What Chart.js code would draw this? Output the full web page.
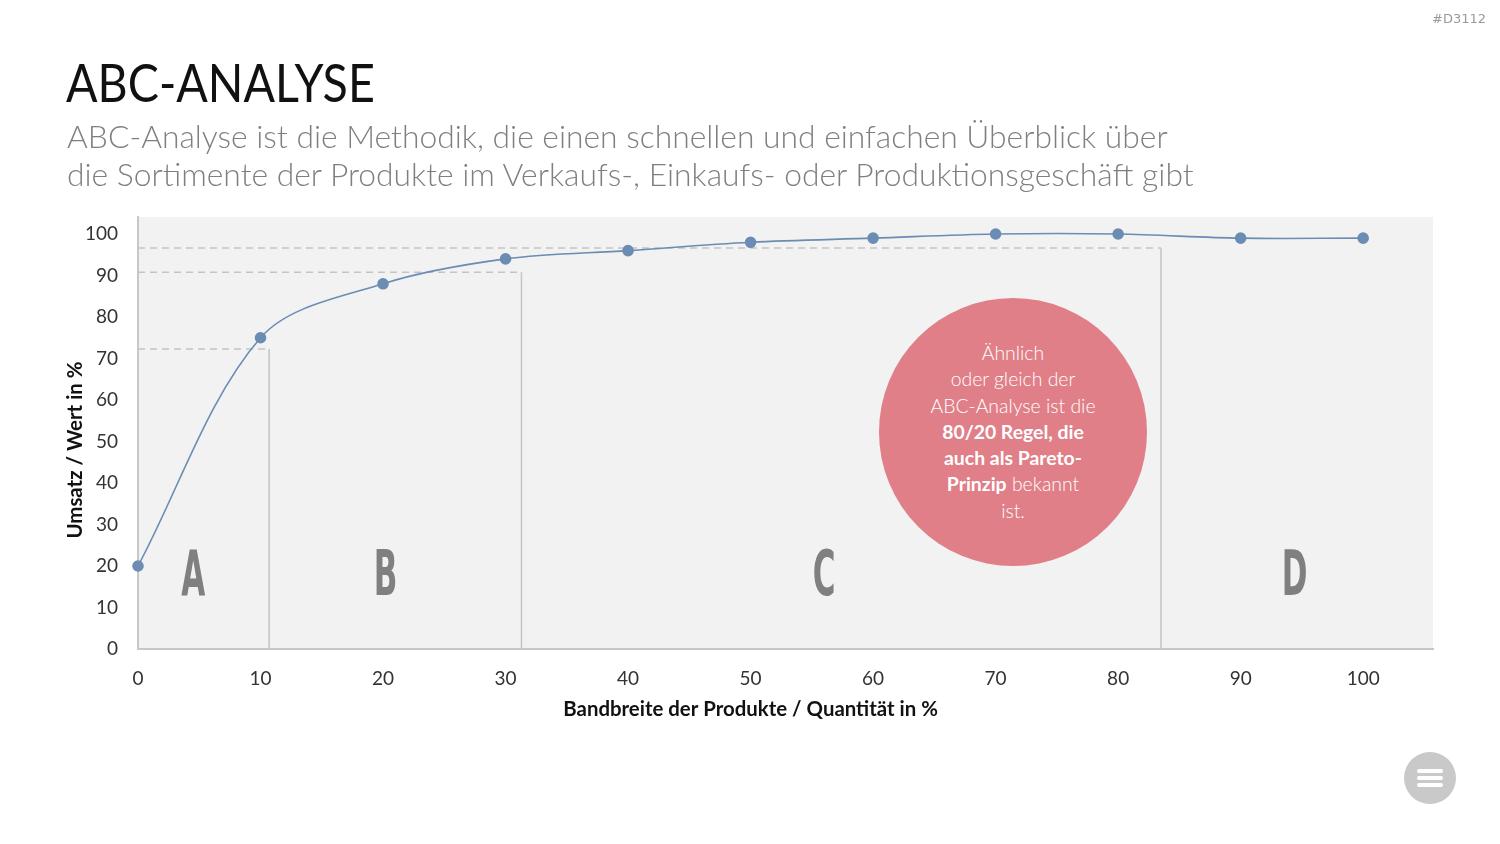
<!DOCTYPE html>
<html lang="de">
<head>
<meta charset="utf-8">
<title>ABC-Analyse</title>
<script src="https://cdn.jsdelivr.net/npm/chart.js@4.4.1/dist/chart.umd.min.js"></script>
<style>
  html, body { margin: 0; padding: 0; background: #fff; }
  body { width: 1500px; height: 844px; position: relative; overflow: hidden; font-family: Lato, 'Open Sans', sans-serif; }
  #chart { position: absolute; left: 0; top: 0; }
  .tag { position: absolute; right: 14px; top: 11px; font: 13px 'DejaVu Sans', sans-serif; color: #9a9a9a; }
  h1 { position: absolute; left: 66px; top: 50px; margin: 0; font-weight: 400; font-size: 53px; color: #111;
       transform: scaleX(0.88); transform-origin: left center; }
  .sub { position: absolute; left: 67px; top: 117px; margin: 0; font-weight: 300; font-size: 31.8px; line-height: 38px; color: #7f7f7f; }
  .bubble { position: absolute; left: 879px; top: 298px; width: 268px; height: 268px; border-radius: 50%;
            background: #e07f88; color: #fff; display: flex; align-items: center; justify-content: center;
            text-align: center; font-size: 19.4px; line-height: 26.2px; font-weight: 300; }
  .bubble b { font-weight: 700; }
  .menu { position: absolute; left: 1404px; top: 752px; width: 52px; height: 52px; border-radius: 50%; background: #c9c9c9; }
  .menu i { position: absolute; left: 13px; width: 26px; height: 4px; border-radius: 2px; background: #fff; }
</style>
</head>
<body>
<canvas id="chart" width="1500" height="844"></canvas>
<div class="tag">#D3112</div>
<h1>ABC-ANALYSE</h1>
<p class="sub">ABC-Analyse ist die Methodik, die einen schnellen und einfachen Überblick über<br>die Sortimente der Produkte im Verkaufs-, Einkaufs- oder Produktionsgeschäft gibt</p>
<div class="bubble"><div>Ähnlich<br>oder gleich der<br>ABC-Analyse ist die<br><b>80/20 Regel, die<br>auch als Pareto-<br>Prinzip</b> bekannt<br>ist.</div></div>
<div class="menu"><i style="top:17px"></i><i style="top:24px"></i><i style="top:31px"></i></div>
<script>
// ----- data -----
const xTicks = [0, 10, 20, 30, 40, 50, 60, 70, 80, 90, 100];
const yTicks = [0, 10, 20, 30, 40, 50, 60, 70, 80, 90, 100];
const quantity = [0, 10, 20, 30, 40, 50, 60, 70, 80, 90, 100];
const revenue  = [20, 75, 88, 94, 96, 98, 99, 100, 100, 99, 99];

// class borders (x) and the revenue level they are read at (y)
const zoneBorders = [10.7, 31.3, 83.5];
const zoneLevels  = [72.3, 90.8, 96.6];
const zoneNames   = ['A', 'B', 'C', 'D'];
const zoneNameX   = [4.5, 20.2, 56, 94.4];
const zoneNameBase = 13;

const xMax = 105.7;
const yMax = 104.1;

const xTitle = 'Bandbreite der Produkte / Quantität in %';
const yTitle = 'Umsatz / Wert in %';

// ----- plugins -----
const backdrop = {
  id: 'backdrop',
  beforeDraw(chart) {
    const { ctx, chartArea: a } = chart;
    ctx.save();
    ctx.fillStyle = '#f2f2f2';
    ctx.fillRect(a.left, a.top, a.right - a.left, a.bottom - a.top);
    ctx.restore();
  }
};

const zoneLetters = {
  id: 'zoneLetters',
  beforeDatasetsDraw(chart) {
    const { ctx, scales: { x, y } } = chart;
    ctx.save();
    ctx.fillStyle = '#808080';
    ctx.font = 'bold 62px "DejaVu Sans", sans-serif';
    ctx.textAlign = 'center';
    ctx.textBaseline = 'alphabetic';
    zoneNames.forEach((n, i) => {
      const px = x.getPixelForValue(zoneNameX[i]);
      const py = y.getPixelForValue(zoneNameBase);
      ctx.save();
      ctx.translate(px, py);
      ctx.scale(0.5, 1);
      ctx.fillText(n, 0, 0);
      ctx.restore();
    });
    ctx.restore();
  }
};

const axisTitles = {
  id: 'axisTitles',
  afterDraw(chart) {
    const { ctx, chartArea: a, scales: { x } } = chart;
    ctx.save();
    ctx.fillStyle = '#111';
    ctx.font = 'bold 20.4px Lato, sans-serif';
    ctx.textAlign = 'center';
    ctx.textBaseline = 'middle';
    ctx.fillText(xTitle, x.getPixelForValue(50), a.bottom + 60);
    ctx.translate(75, (a.top + a.bottom) / 2 + 17);
    ctx.rotate(-Math.PI / 2);
    ctx.fillText(yTitle, 0, 0);
    ctx.restore();
  }
};

// ----- datasets -----
const zoneSets = zoneBorders.map((bx, i) => ({
  data: [
    { x: 0, y: zoneLevels[i] },
    { x: bx, y: zoneLevels[i] },
    { x: bx, y: 0 }
  ],
  borderColor: '#c4c4c4',
  borderWidth: 1.5,
  pointRadius: 0,
  tension: 0,
  order: 2,
  segment: { borderDash: c => c.p0DataIndex === 0 ? [7, 5] : [] }
}));

const mainSet = {
  data: quantity.map((q, i) => ({ x: q, y: revenue[i] })),
  borderColor: '#6b8cb3',
  backgroundColor: '#6b8cb3',
  borderWidth: 1.6,
  pointRadius: 5,
  pointHoverRadius: 5,
  tension: 0.33,
  clip: false,
  order: 1
};

new Chart(document.getElementById('chart'), {
  type: 'line',
  data: { datasets: [mainSet, ...zoneSets] },
  options: {
    responsive: false,
    animation: false,
    devicePixelRatio: 1,
    layout: { padding: { left: 0, top: 217, right: 67, bottom: 145 } },
    plugins: { legend: { display: false }, tooltip: { enabled: false } },
    scales: {
      x: {
        type: 'linear',
        min: 0,
        max: xMax,
        grid: { display: false },
        border: { display: true, color: '#c8c8c8', width: 2 },
        afterBuildTicks: s => { s.ticks = xTicks.map(v => ({ value: v })); },
        afterFit: s => { s.height = 50; },
        ticks: { color: '#333', font: { family: 'Lato', size: 19 }, padding: 10, maxRotation: 0 }
      },
      y: {
        min: 0,
        max: yMax,
        grid: { display: false },
        border: { display: true, color: '#c8c8c8', width: 2 },
        afterBuildTicks: s => { s.ticks = yTicks.map(v => ({ value: v })); },
        afterFit: s => { s.width = 138; },
        ticks: { color: '#333', font: { family: 'Lato', size: 19 }, padding: 12 }
      }
    }
  },
  plugins: [backdrop, zoneLetters, axisTitles]
});
</script>
</body>
</html>
